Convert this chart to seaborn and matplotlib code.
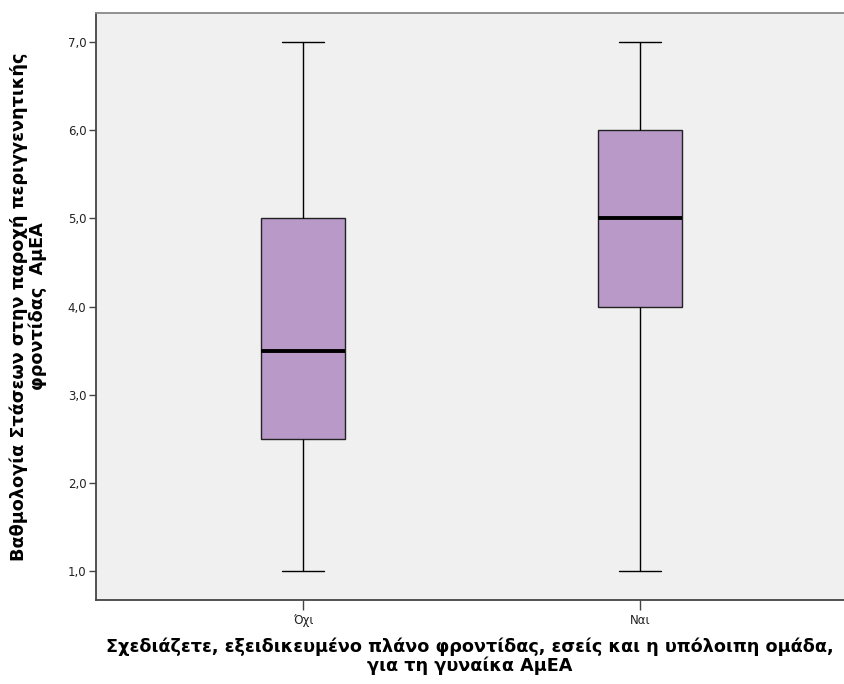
import matplotlib
matplotlib.use("Agg")
import matplotlib.pyplot as plt
import seaborn as sns
import pandas as pd
from matplotlib.ticker import FuncFormatter

# Data (raw values whose quartiles/whiskers reproduce the boxes)
categories = ["Όχι", "Ναι"]
values_ochi = [1.0, 2.5, 3.5, 5.0, 7.0]
values_nai = [1.0, 4.0, 5.0, 6.0, 7.0]
yticks = [1.0, 2.0, 3.0, 4.0, 5.0, 6.0, 7.0]

df = pd.DataFrame({
    "group": [categories[0]] * len(values_ochi) + [categories[1]] * len(values_nai),
    "score": values_ochi + values_nai,
})

sns.set_theme(style="white")
plt.rcParams['font.family'] = ['DejaVu Sans']

W, H = 844, 684
fig = plt.figure(figsize=(W / 100, H / 100), dpi=100)
left, right, top, bottom = 96, 844, 13, 600
ax = fig.add_axes([left / W, (H - bottom) / H, (right - left) / W, (bottom - top) / H])
ax.set_facecolor("#F0F0F0")

sns.boxplot(
    data=df, x="group", y="score", order=categories, ax=ax,
    width=0.25, color="#B899C8", saturation=1, whis=1.5,
    linecolor="black", linewidth=1.0,
    medianprops=dict(color="black", linewidth=2.8),
    boxprops=dict(edgecolor="#222222"),
)

ax.set_xlim(-0.614, 1.605)
ax.set_ylim(0.67, 7.33)
ax.set_yticks(yticks)
ax.yaxis.set_major_formatter(FuncFormatter(lambda v, p: f"{v:.1f}".replace(".", ",")))

for s in ["left", "bottom"]:
    ax.spines[s].set_color("#444444")
    ax.spines[s].set_linewidth(1.3)
ax.spines["top"].set_color("#888888")
ax.spines["top"].set_linewidth(1.3)
ax.spines["right"].set_visible(False)

ax.tick_params(axis="y", direction="out", length=5, width=1, color="#444444",
               labelsize=8.5, labelcolor="#222222", pad=2, left=True)
ax.tick_params(axis="x", direction="out", length=7, width=1, color="#444444",
               labelsize=8.5, labelcolor="#222222", pad=3, bottom=True)

ax.set_xlabel("Σχεδιάζετε, εξειδικευμένο πλάνο φροντίδας, εσείς και η υπόλοιπη ομάδα,\nγια τη γυναίκα ΑμΕΑ",
              fontsize=12.7, fontweight="bold", labelpad=8, linespacing=1.0, color="black")
ax.set_ylabel("Βαθμολογία Στάσεων στην παροχή περιγγενητικής\nφροντίδας  ΑμΕΑ",
              fontsize=12.7, fontweight="bold", labelpad=15, linespacing=1.0, color="black")

fig.savefig("out.png", dpi=100)
